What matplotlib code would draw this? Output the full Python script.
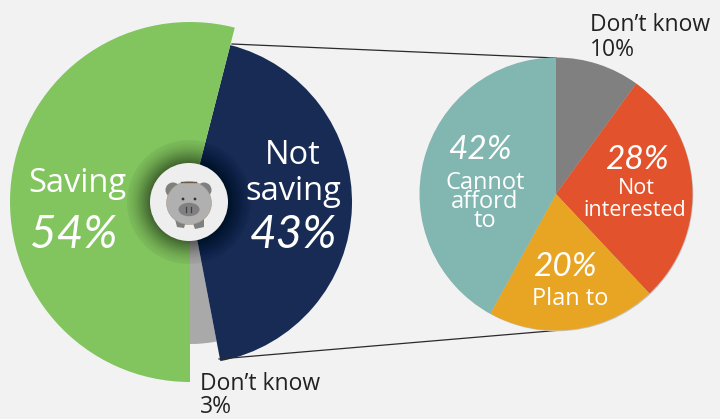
import matplotlib
matplotlib.use("Agg")
import matplotlib.pyplot as plt
from matplotlib.patches import Circle, Ellipse, Polygon

main_labels = ["Saving", "Not saving", "Don't know"]
main_values = [54, 43, 3]
main_colors = ["#82c55f", "#172b54", "#a9a9a9"]
sub_labels = ["Don't know", "Not interested", "Plan to", "Cannot afford to"]
sub_values = [10, 28, 20, 42]
sub_colors = ["#808080", "#e2522c", "#e8a523", "#82b6b1"]

W, H = 720, 419
BG = "#f2f2f2"
fig = plt.figure(figsize=(W / 100, H / 100), dpi=100, facecolor=BG)
ax = fig.add_axes([0, 0, 1, 1])
ax.set_facecolor(BG)
Y = lambda y: H - y

# main pie: each slice has its own radius
cx, cy = 190, 202
radii = [180, 162, 142]
order = [2, 1, 0]
angles = {}
a = 270
for i in range(3):
    angles[i] = a
    a -= main_values[i] * 3.6
for i in order:
    ax.pie([main_values[i] / 100], startangle=angles[i], counterclock=False, normalize=False,
           colors=[main_colors[i]], radius=radii[i], center=(cx, Y(cy)), frame=True)

# dark halo around the medallion
n = 24
for k in range(n):
    r = 62 - (62 - 38) * k / n
    al = 0.05 if k == 0 else 0.004 + 0.0016 * k
    ax.add_patch(Circle((cx - 1, Y(cy)), r, fc="black", ec="none", alpha=al, zorder=3))

# connector lines
ax.plot([232, 556], [Y(44), Y(58)], color="#2a2a2a", lw=0.9, zorder=2)
ax.plot([219, 556], [Y(359), Y(330.5)], color="#2a2a2a", lw=0.9, zorder=2)

# right pie
rx, ry, rr = 556, 194, 136.5
ax.add_patch(Circle((rx + 0.8, Y(ry + 0.8)), rr, fc="#c4c4c4", ec="none", zorder=2.5))
wedges, _ = ax.pie(sub_values, startangle=90, counterclock=False, colors=sub_colors,
                   radius=rr, center=(rx, Y(ry)), frame=True)
for w in wedges:
    w.set_zorder(3)

# medallion with piggy
Z = 5
ax.add_patch(Circle((189, Y(202)), 39, fc="#eeeeee", ec="none", zorder=Z))
ax.add_patch(Circle((173, Y(190)), 7.5, fc="#7f7f7f", ec="none", zorder=Z))
ax.add_patch(Circle((204, Y(190)), 7.5, fc="#7f7f7f", ec="none", zorder=Z))
ax.add_patch(Polygon([(174, Y(215)), (187, Y(218)), (184, Y(228)), (177, Y(227))], fc="#7f7f7f", ec="none", zorder=Z))
ax.add_patch(Polygon([(191, Y(218)), (204, Y(215)), (204, Y(227)), (195, Y(229))], fc="#7f7f7f", ec="none", zorder=Z))
ax.add_patch(Ellipse((189, Y(203)), 45, 43, fc="#b0b0b0", ec="#a89a88", lw=0.4, zorder=Z + 0.1))
ax.add_patch(Ellipse((189, Y(209.5)), 21, 13.5, fc="#808080", ec="none", zorder=Z + 0.2))
for ex in (183, 195):
    ax.add_patch(Circle((ex, Y(199)), 1.4, fc="#3a3030", ec="none", zorder=Z + 0.2))
for ex in (186, 191):
    ax.plot([ex, ex], [Y(207), Y(212)], color="#3f3f3f", lw=0.9, zorder=Z + 0.3)
ax.plot([181, 196], [Y(182), Y(182)], color="#6b5a45", lw=1.0, zorder=Z + 0.3)

ax.set_aspect("equal")
ax.set_xlim(0, W)
ax.set_ylim(0, H)
ax.axis("off")

SANS = "Open Sans"
HAND = "Lato"
def lab(x, y, s, size, color="white", ha="center", ls=1.0):
    ax.text(x, Y(y), s, fontsize=size, color=color, ha=ha, va="center", family=SANS,
            linespacing=ls, multialignment="center" if ha == "center" else "left", zorder=8)
def pct(x, y, s, size):
    ax.text(x, Y(y), s, fontsize=size, color="white", ha="center", va="center",
            family=HAND, style="italic", weight="normal", zorder=8)

lab(77, 184, "Saving", 23.5)
pct(74, 235, f"{main_values[0]}%", 33)
lab(293, 155, "Not", 23.5)
lab(293, 191, "saving", 23.5)
pct(293, 235, f"{main_values[1]}%", 33)

pct(480, 150, f"{sub_values[3]}%", 24)
lab(485, 202, "Cannot\nafford\nto", 17, ls=0.72)
pct(637, 160, f"{sub_values[1]}%", 24)
lab(636, 189, "Not", 15.5)
lab(635, 210, "interested", 15.5)
pct(565, 267, f"{sub_values[2]}%", 24)
lab(570, 299, "Plan to", 17)

lab(590, 25, "Don\u2019t know", 16.5, "#222222", "left")
lab(590, 50, f"{sub_values[0]}%", 16.5, "#222222", "left")
lab(200, 384, "Don\u2019t know", 16.5, "#222222", "left")
lab(200, 407, f"{main_values[2]}%", 16.5, "#222222", "left")

fig.savefig("out.png", dpi=100, facecolor=BG)
